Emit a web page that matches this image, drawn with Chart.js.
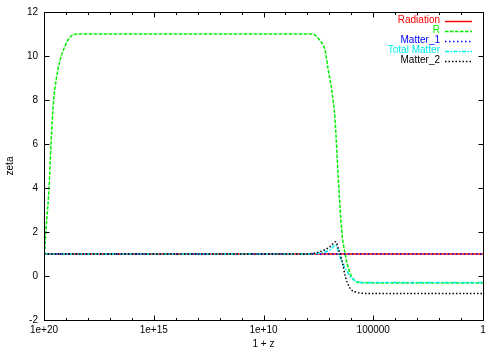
<!DOCTYPE html>
<html>
<head>
<meta charset="utf-8">
<script src="https://cdn.jsdelivr.net/npm/chart.js@4"></script>
<style>
  html, body { margin: 0; padding: 0; background: #fff; }
  #wrap { width: 500px; height: 350px; position: relative; }
</style>
</head>
<body>
<div id="wrap"><canvas id="c" width="500" height="350"></canvas></div>
<script>
// ---- data (1+z on x, zeta on y) ----
const seriesNames = ['Radiation', 'R', 'Matter_1', 'Total Matter', 'Matter_2'];

const radiationZ = [1e20, 1];
const radiationVal = [1, 1];

const rZ = [1e20, 8.13e19, 5.89e19, 4.8e19, 3.7e19, 2.8e19, 1.86e19, 1.1e19, 6.6e18, 3.16e18, 1e18,
            7.6e7, 4.47e7, 2.7e7, 1.58e7, 1.12e7, 7.76e6, 5.5e6, 3.9e6, 2.75e6, 1.95e6, 1.15e6, 5.6e5, 2.95e5, 1];
const rVal = [0.75, 2.1, 4.0, 6.0, 7.9, 8.9, 9.8, 10.45, 10.85, 11.0, 11.0,
              11.0, 10.95, 10.7, 10.27, 9.36, 8.45, 7.1, 4.4, 2.1, 1.05, 0.14, -0.27, -0.31, -0.32];

const matter1Z = [1e20, 1];
const matter1Val = [1, 1];

const totalZ = [1e20, 7.6e7, 2.7e7, 9.33e6, 5.25e6, 3.31e6, 1.95e6, 1.15e6, 6.76e5, 3.16e5, 1];
const totalVal = [1, 1.0, 1.05, 1.18, 1.41, 0.88, 0.38, 0.0, -0.22, -0.29, -0.3];

const matter2Z = [1e20, 1.05e8, 5.5e7, 2.7e7, 9.3e6, 5.1e6, 3.8e6, 3.24e6, 2.4e6, 1.95e6, 1.15e6, 5.1e5, 2.5e5, 1];
const matter2Val = [1, 1.0, 1.03, 1.1, 1.33, 1.56, 1.2, 1.0, 0.5, 0.05, -0.55, -0.75, -0.79, -0.8];

const xMajorTicks = [1e20, 1e15, 1e10, 1e5, 1];
const xTickLabels = ['1e+20', '1e+15', '1e+10', '100000', '1'];
const xMinorTicks = [1e19, 1e18, 1e17, 1e16, 1e14, 1e13, 1e12, 1e11, 1e9, 1e8, 1e7, 1e6, 1e4, 1e3, 1e2, 1e1];
const yTicks = [-2, 0, 2, 4, 6, 8, 10, 12];

function pts(zs, vs) { return zs.map((z, i) => ({ x: z, y: vs[i] })); }

const FONT = 'Liberation Sans, Arial, sans-serif';

const gnuplotFrame = {
  id: 'gnuplotFrame',
  afterDraw(chart) {
    const { ctx, chartArea: ca, scales: { x, y } } = chart;
    ctx.save();
    ctx.strokeStyle = '#000';
    ctx.lineWidth = 1;
    ctx.setLineDash([]);
    const L = Math.round(ca.left) + 0.5, R = Math.round(ca.right) + 0.5;
    const T = Math.round(ca.top) + 0.5, B = Math.round(ca.bottom) + 0.5;
    ctx.strokeRect(L, T, R - L, B - T);
    ctx.beginPath();
    x.ticks.forEach(t => {
      const px = Math.round(x.getPixelForValue(t.value)) + 0.5;
      const len = xMajorTicks.includes(t.value) ? 5 : 2.5;
      ctx.moveTo(px, B); ctx.lineTo(px, B - len);
      ctx.moveTo(px, T); ctx.lineTo(px, T + len);
    });
    y.ticks.forEach(t => {
      const py = Math.round(y.getPixelForValue(t.value)) + 0.5;
      ctx.moveTo(L, py); ctx.lineTo(L + 5, py);
      ctx.moveTo(R, py); ctx.lineTo(R - 5, py);
    });
    ctx.stroke();

    // key (top right, text right-aligned, sample to the right)
    ctx.font = '10px ' + FONT;
    ctx.textAlign = 'right';
    ctx.textBaseline = 'middle';
    chart.data.datasets.forEach((ds, i) => {
      const yy = 20.5 + i * 10;
      ctx.fillStyle = ds.borderColor;
      ctx.fillText(ds.label, 440, yy);
      ctx.strokeStyle = ds.borderColor;
      ctx.lineWidth = ds.borderWidth;
      ctx.setLineDash(ds.borderDash || []);
      ctx.beginPath();
      ctx.moveTo(445, Math.round(yy) + 0.5);
      ctx.lineTo(472, Math.round(yy) + 0.5);
      ctx.stroke();
    });
    ctx.restore();
  }
};

const common = { pointRadius: 0, pointHoverRadius: 0, fill: false, borderWidth: 1.5, cubicInterpolationMode: 'monotone' };

new Chart(document.getElementById('c'), {
  type: 'line',
  data: {
    datasets: [
      Object.assign({ label: seriesNames[0], data: pts(radiationZ, radiationVal), borderColor: '#ff0000', borderDash: [], order: 5 }, common),
      Object.assign({ label: seriesNames[1], data: pts(rZ, rVal), borderColor: '#00f000', borderDash: [3.5, 1.5], order: 4 }, common),
      Object.assign({ label: seriesNames[2], data: pts(matter1Z, matter1Val), borderColor: '#0000ff', borderDash: [1.5, 2.5], order: 3 }, common),
      Object.assign({ label: seriesNames[3], data: pts(totalZ, totalVal), borderColor: '#00eeee', borderDash: [4, 1.5, 1.5, 1.5], order: 2 }, common),
      Object.assign({ label: seriesNames[4], data: pts(matter2Z, matter2Val), borderColor: '#000000', borderDash: [1.5, 2], order: 1 }, common)
    ]
  },
  options: {
    responsive: false,
    animation: false,
    devicePixelRatio: 1,
    layout: { padding: { left: 0, right: 17, top: 12, bottom: 0 } },
    plugins: { legend: { display: false }, tooltip: { enabled: false } },
    scales: {
      x: {
        type: 'logarithmic',
        reverse: true,
        min: 1,
        max: 1e20,
        afterBuildTicks(scale) {
          scale.ticks = xMajorTicks.concat(xMinorTicks).sort((a, b) => b - a).map(v => ({ value: v }));
        },
        afterFit(scale) { scale.height = 30; },
        grid: { display: false, drawTicks: false },
        border: { display: false },
        ticks: {
          autoSkip: false,
          maxRotation: 0,
          padding: 4,
          color: '#000',
          font: { family: FONT, size: 10 },
          callback(value) {
            const i = xMajorTicks.indexOf(value);
            return i >= 0 ? xTickLabels[i] : '';
          }
        },
        title: { display: true, text: '1 + z', color: '#000', font: { family: FONT, size: 10 }, padding: { top: 0, bottom: 0 } }
      },
      y: {
        min: -2,
        max: 12,
        afterBuildTicks(scale) { scale.ticks = yTicks.map(v => ({ value: v })); },
        afterFit(scale) { scale.width = 44; },
        grid: { display: false, drawTicks: false },
        border: { display: false },
        ticks: { padding: 6, color: '#000', font: { family: FONT, size: 10 }, callback: v => String(v) },
        title: { display: true, text: 'zeta', color: '#000', font: { family: FONT, size: 10 }, padding: { top: 4, bottom: 0 } }
      }
    }
  },
  plugins: [gnuplotFrame]
});
</script>
</body>
</html>
